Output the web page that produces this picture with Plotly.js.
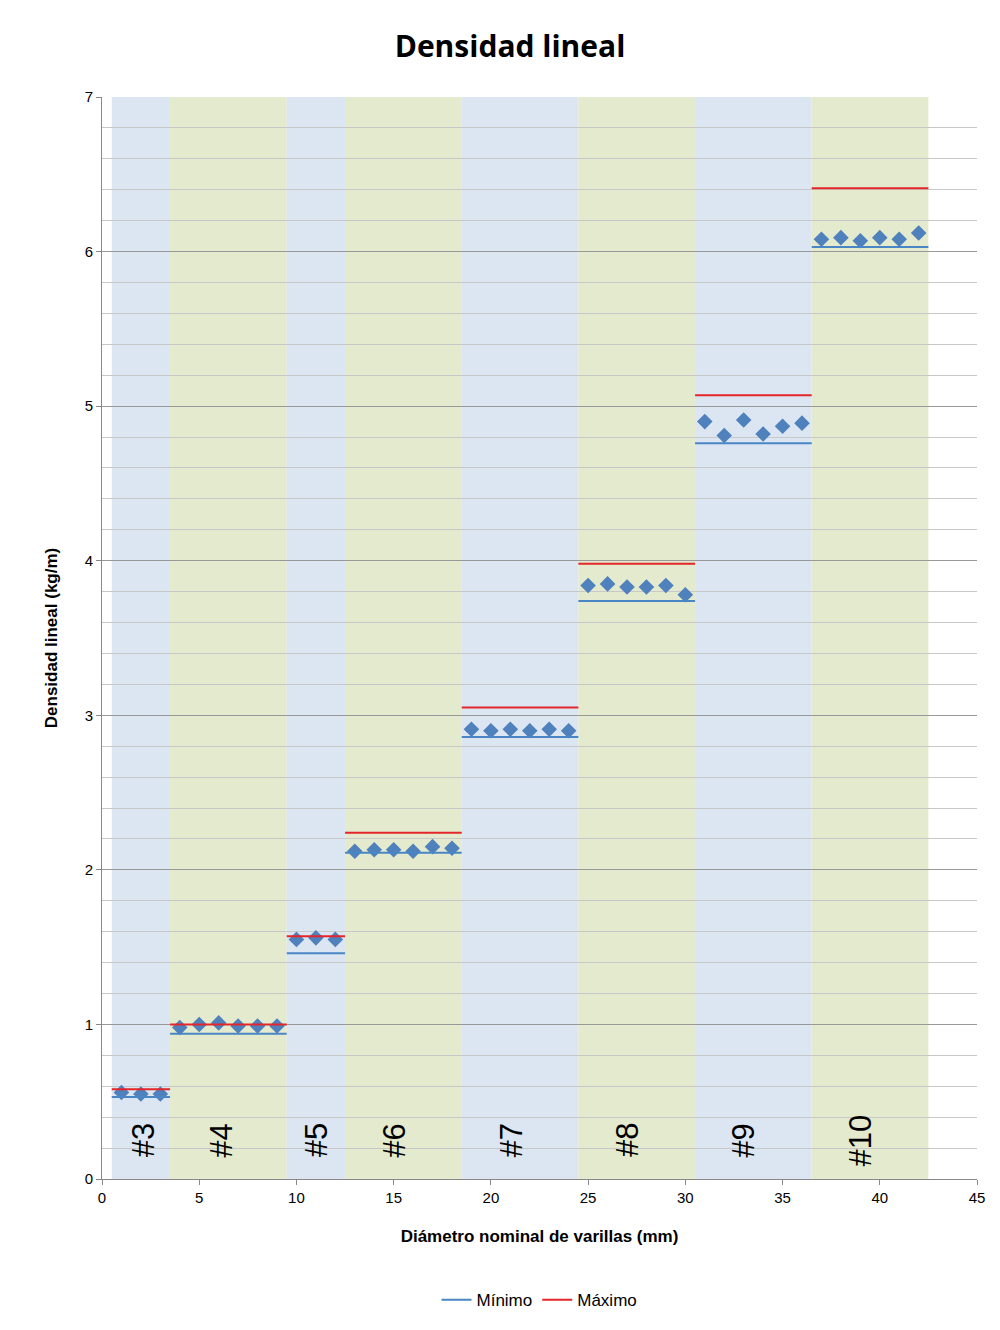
<!DOCTYPE html><html><head><meta charset="utf-8">
<script src="https://cdn.plot.ly/plotly-3.0.1.min.js"></script>
<style>body{margin:0}</style></head><body><div id="c" style="width:1000px;height:1330px"></div>
<script>
const labels=["#3","#4","#5","#6","#7","#8","#9","#10"];
const edges=[0.5,3.5,9.5,12.5,18.5,24.5,30.5,36.5,42.5];
const minVals=[0.53,0.94,1.46,2.11,2.86,3.74,4.76,6.03];
const maxVals=[0.58,1.00,1.57,2.24,3.05,3.98,5.07,6.41];
const xs=[1,2,3,4,5,6,7,8,9,10,11,12,13,14,15,16,17,18,19,20,21,22,23,24,25,26,27,28,29,30,31,32,33,34,35,36,37,38,39,40,41,42];
const ys=[0.56,0.55,0.55, 0.98,1.00,1.01,0.99,0.99,0.99, 1.55,1.56,1.55,
2.12,2.13,2.13,2.12,2.15,2.14, 2.91,2.90,2.91,2.90,2.91,2.90,
3.84,3.85,3.83,3.83,3.84,3.78, 4.90,4.81,4.91,4.82,4.87,4.89,
6.08,6.09,6.07,6.09,6.08,6.12];
const labelShift=[2,-7,0,-9,-9,-9,-10,-10];
function seg(v){const x=[],y=[];for(let i=0;i<v.length;i++){x.push(edges[i],edges[i+1],null);y.push(v[i],v[i],null);}return {x,y};}
const mn=seg(minVals),mx=seg(maxVals);
const shapes=[],ann=[];
for(let i=0;i<labels.length;i++){
 shapes.push({type:'rect',layer:'below',xref:'x',yref:'y',x0:edges[i],x1:edges[i+1],y0:0,y1:7,line:{width:0},fillcolor:i%2===0?'#dce6f2':'#e3eacd'});
 ann.push({x:(edges[i]+edges[i+1])/2,xshift:labelShift[i],y:0.25,xref:'x',yref:'y',text:labels[i],textangle:-90,showarrow:false,font:{size:31,color:'#000',family:'Liberation Sans, Arial'}});
}
const data=[
{x:xs,y:ys,mode:'markers',type:'scatter',marker:{symbol:'diamond',size:12,color:'#4f81bd'},showlegend:false},
{x:mn.x,y:mn.y,mode:'lines',name:'Mínimo',line:{color:'#4a86c5',width:2},connectgaps:false},
{x:mx.x,y:mx.y,mode:'lines',name:'Máximo',line:{color:'#e3262a',width:2},connectgaps:false}
];
const layout={width:1000,height:1330,margin:{l:102,r:23,t:97,b:149},
paper_bgcolor:'#fff',plot_bgcolor:'#fff',
font:{family:'Liberation Sans, Arial',color:'#000',size:15},
title:{text:'<b>Densidad lineal</b>',x:0.51,xanchor:'center',y:0.965,yanchor:'middle',font:{size:30,family:'Open Sans, Liberation Sans'}},
xaxis:{range:[0,45],dtick:5,tick0:0,showgrid:false,zeroline:false,showline:true,linecolor:'#888',ticks:'outside',ticklen:5,tickcolor:'#888',
 title:{text:'<b>Diámetro nominal de varillas (mm)</b>',font:{size:17},standoff:25}},
yaxis:{range:[0,7],dtick:1,showgrid:true,gridcolor:'#999',zeroline:false,showline:true,linecolor:'#888',ticks:'outside',ticklen:5,tickcolor:'#888',
 minor:{dtick:0.2,showgrid:true,gridcolor:'#c8c8c8',ticks:''},
 title:{text:'<b>Densidad lineal (kg/m)</b>',font:{size:17},standoff:22}},
legend:{orientation:'h',x:0.5,xanchor:'center',y:-0.112,yanchor:'middle',font:{size:17}},
shapes:shapes,annotations:ann};
Plotly.newPlot('c',data,layout,{displayModeBar:false});
</script></body></html>
